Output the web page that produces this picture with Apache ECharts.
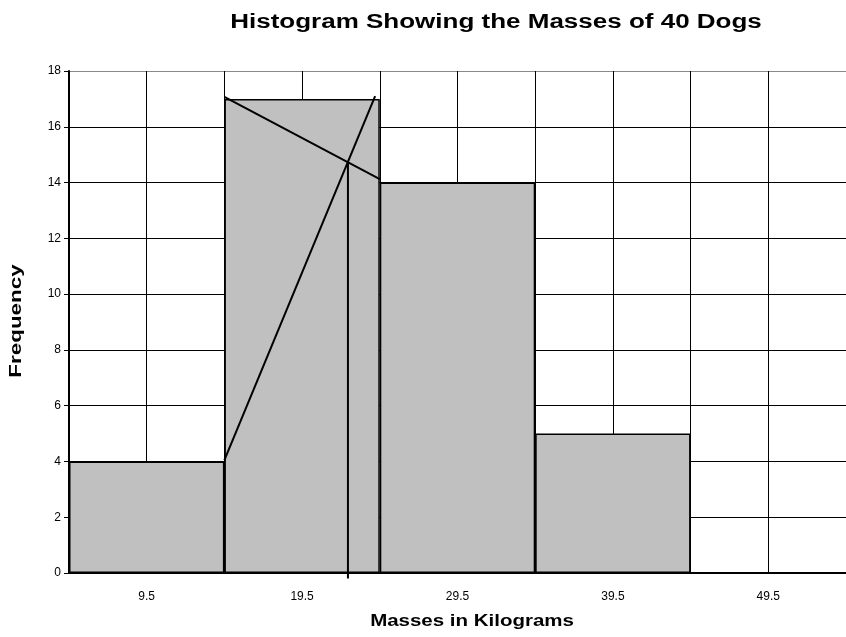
<!DOCTYPE html>
<html><head><meta charset="utf-8">
<script src="https://cdn.jsdelivr.net/npm/echarts@6/dist/echarts.min.js"></script>
<style>html,body{margin:0;padding:0;background:#fff}#c{width:846px;height:637px}</style>
</head><body><div id="c"></div>
<script>
const categories = ['9.5','19.5','29.5','39.5','49.5'];
const frequencies = [4, 17, 14, 5, 0];
const yTicks = [0, 18, 2];
const titleText = 'Histogram Showing the Masses of 40 Dogs';
const xTitle = 'Masses in Kilograms';
const yTitle = 'Frequency';
// mode-estimation construction lines, in (bin position, frequency) units; each bin spans 2 units
const modeLineA = [[2, 17.07], [4, 14.12]];
const modeLineB = [[2, 4.05], [3.94, 17.1]];
const modeLineV = [[3.59, -0.2], [3.59, 14.72]];

const chart = echarts.init(document.getElementById('c'), null, {renderer:'canvas'});
const font = 'Liberation Sans, Arial, sans-serif';
const lineSeries = (d) => ({
  type:'line', xAxisIndex:1, data:d, symbol:'none', silent:true, clip:false,
  lineStyle:{color:'#000', width:2}, z:5
});
const txt = (t, x, y, size, opts) => Object.assign({
  type:'text', x:x, y:y, silent:true,
  style:{text:t, fontFamily:font, fontSize:size, fontWeight:'bold', fill:'#000',
    textAlign:'center', textVerticalAlign:'middle', align:'center', verticalAlign:'middle'}
}, opts);
chart.setOption({
  animation:false,
  graphic:[
    txt(titleText, 496, 22, 20, {scaleX:1.3}),
    txt(xTitle, 472, 622, 16, {scaleX:1.28}),
    txt(yTitle, 17, 321, 16, {rotation:Math.PI/2, scaleX:1.4})
  ],
  grid:{left:69, right:0, top:71, bottom:64, containLabel:false},
  xAxis:[{
    type:'category', data:categories, boundaryGap:true,
    axisLine:{lineStyle:{color:'#000', width:2}}, axisTick:{show:false},
    axisLabel:{fontFamily:font, fontSize:12, color:'#000', margin:18},
    splitLine:{show:false}
  },{
    type:'value', min:0, max:10, interval:1, position:'bottom',
    axisLine:{show:false}, axisTick:{show:false}, axisLabel:{show:false},
    splitLine:{show:true, lineStyle:{color:'#000', width:1}}
  }],
  yAxis:{
    type:'value', min:yTicks[0], max:yTicks[1], interval:yTicks[2],
    axisLine:{show:true, lineStyle:{color:'#000', width:2}},
    axisTick:{show:true, length:5, lineStyle:{color:'#000', width:1}},
    axisLabel:{fontFamily:font, fontSize:12, color:'#000', margin:8},
    splitLine:{show:true, lineStyle:{color:['#000','#000','#000','#000','#000','#000','#000','#000','#000','#888'], width:1}}
  },
  series:[{
    type:'bar', data:frequencies, barWidth:'100%', barGap:'0%', barCategoryGap:'0%',
    itemStyle:{color:'#c0c0c0', borderColor:'#000', borderWidth:1.5}, z:3
  },
  lineSeries(modeLineA), lineSeries(modeLineB), lineSeries(modeLineV)]
});
</script></body></html>
